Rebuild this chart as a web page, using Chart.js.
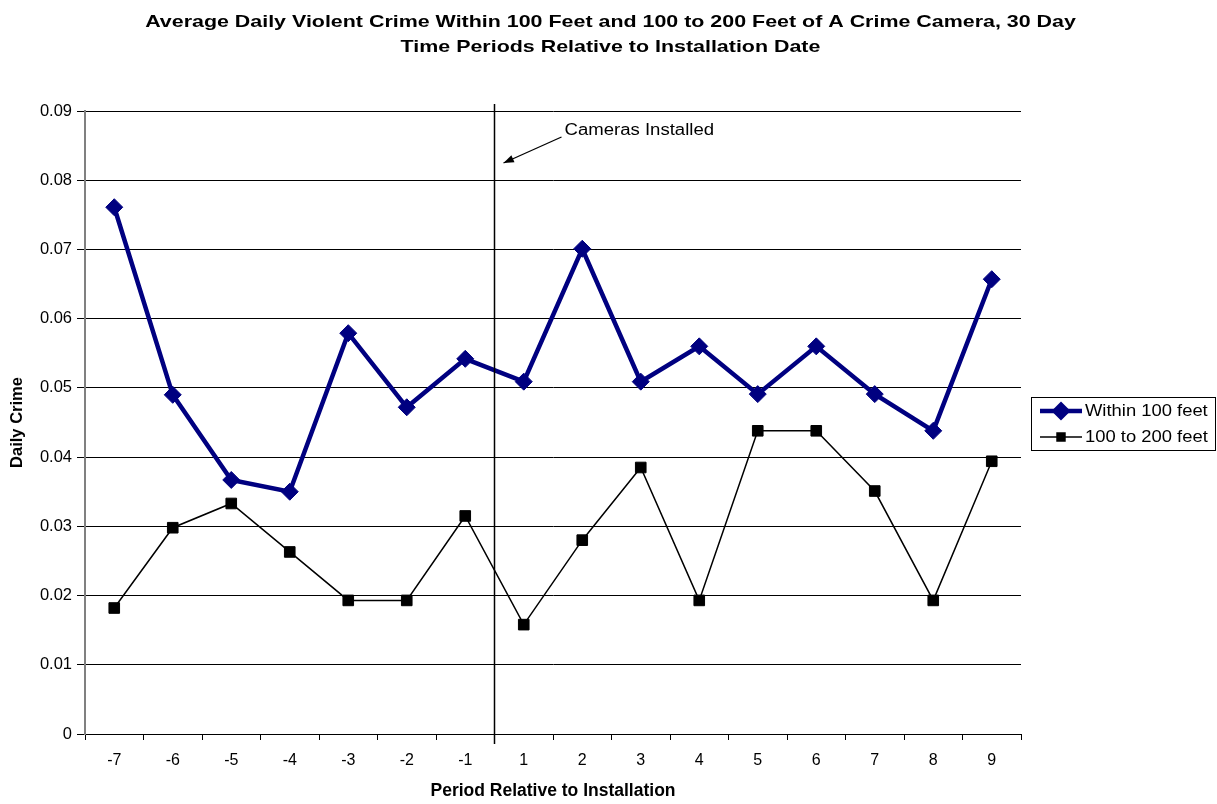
<!DOCTYPE html>
<html>
<head>
<meta charset="utf-8">
<script src="https://cdn.jsdelivr.net/npm/chart.js@4/dist/chart.umd.min.js"></script>
<style>
    html, body { margin: 0; padding: 0; background: #fff; }
    #holder { width: 1217px; height: 804px; }
</style>
</head>
<body>
<div id="holder"><canvas id="c1"></canvas></div>
<script>
// periods around the install date (there is no period 0)
var periods = ["-7", "-6", "-5", "-4", "-3", "-2", "-1", "1", "2", "3", "4", "5", "6", "7", "8", "9"];
var within100 = [0.0761, 0.0490, 0.0367, 0.0350, 0.0579, 0.0472, 0.0542, 0.0509, 0.0701, 0.0509, 0.0560, 0.0491, 0.0560, 0.0491, 0.0438, 0.0657];
var from100to200 = [0.0182, 0.0298, 0.0333, 0.0263, 0.0193, 0.0193, 0.0315, 0.0158, 0.0280, 0.0385, 0.0193, 0.0438, 0.0438, 0.0351, 0.0193, 0.0394];
var yTicks = [0, 0.01, 0.02, 0.03, 0.04, 0.05, 0.06, 0.07, 0.08, 0.09];

var titleLines = [
    "Average Daily Violent Crime Within 100 Feet and 100 to 200 Feet of A Crime Camera, 30 Day",
    "Time Periods Relative to Installation Date"
];
var markerText = "Cameras Installed";
var installAfter = "-1";   // line goes between this period and the next

var FONT = "'Liberation Sans', Arial, sans-serif";
var WIDE = 1.2;   // horizontal stretch used for the hand drawn texts

// fillText with a horizontal stretch
function wideText(ctx, text, x, y, sx, align) {
    ctx.save();
    ctx.translate(x, y);
    ctx.scale(sx, 1);
    ctx.textAlign = align;
    ctx.textBaseline = "middle";
    ctx.fillText(text, 0, 0);
    ctx.restore();
}

// two line title centred on the whole canvas
var wideTitle = {
    id: "wideTitle",
    afterDraw(chart) {
        let ctx = chart.ctx;
        ctx.save();
        ctx.fillStyle = "#000";
        ctx.font = "bold 17px " + FONT;
        titleLines.forEach((t, k) => {
            wideText(ctx, t, chart.width / 2 + 2, 22 + k * 25, 1.26, "center");
        });
        ctx.restore();
    }
};

// vertical line + arrow note for the install date
var installLine = {
    id: "installLine",
    afterDatasetsDraw(chart) {
        let ctx = chart.ctx;
        let xs = chart.scales.x;
        let area = chart.chartArea;
        let i = periods.indexOf(installAfter);
        let x = (xs.getPixelForValue(i) + xs.getPixelForValue(i + 1)) / 2;

        ctx.save();
        ctx.strokeStyle = "#000";
        ctx.lineWidth = 1.5;
        ctx.beginPath();
        ctx.moveTo(x, area.top - 7);
        ctx.lineTo(x, area.bottom + 10);
        ctx.stroke();

        // arrow
        let x1 = x + 67, y1 = area.top + 26;
        let x2 = x + 9, y2 = area.top + 52;
        ctx.lineWidth = 1.3;
        ctx.beginPath();
        ctx.moveTo(x1, y1);
        ctx.lineTo(x2, y2);
        ctx.stroke();
        let a = Math.atan2(y2 - y1, x2 - x1);
        ctx.fillStyle = "#000";
        ctx.beginPath();
        ctx.moveTo(x2, y2);
        ctx.lineTo(x2 - 11 * Math.cos(a - 0.35), y2 - 11 * Math.sin(a - 0.35));
        ctx.lineTo(x2 - 11 * Math.cos(a + 0.35), y2 - 11 * Math.sin(a + 0.35));
        ctx.closePath();
        ctx.fill();

        ctx.font = "16px " + FONT;
        wideText(ctx, markerText, x + 70, area.top + 20, 1.16, "left");
        ctx.restore();
    }
};

// boxed legend on the right side
var boxLegend = {
    id: "boxLegend",
    afterDraw(chart) {
        let ctx = chart.ctx;
        let left = chart.chartArea.right + 10, top = 397, w = 184, h = 53;
        ctx.save();
        ctx.strokeStyle = "#000";
        ctx.lineWidth = 1;
        ctx.strokeRect(left + 0.5, top + 0.5, w, h);

        chart.data.datasets.forEach((ds, k) => {
            let y = top + 14 + k * 26;
            ctx.strokeStyle = ds.borderColor;
            ctx.lineWidth = ds.borderWidth;
            ctx.beginPath();
            ctx.moveTo(left + 9, y);
            ctx.lineTo(left + 51, y);
            ctx.stroke();
            Chart.helpers.drawPoint(ctx, {
                pointStyle: ds.pointStyle,
                radius: ds.pointRadius * 0.75,
                borderWidth: 1
            }, left + 30, y);
            ctx.fillStyle = ds.pointBackgroundColor;
            ctx.fill();
            ctx.fillStyle = "#000";
            ctx.font = "16px " + FONT;
            wideText(ctx, ds.label, left + 54, y + 1, 1.15, "left");
        });
        ctx.restore();
    }
};

function start() {
    let canvas = document.getElementById("c1");
    new Chart(canvas, {
        type: "line",
        data: {
            labels: periods,
            datasets: [{
                label: "Within 100 feet",
                data: within100,
                borderColor: "#000080",
                backgroundColor: "#000080",
                pointBackgroundColor: "#000080",
                pointBorderColor: "#000080",
                borderWidth: 4.5,
                pointStyle: "rectRot",
                pointRadius: 8.5,
                pointBorderWidth: 1,
                tension: 0
            }, {
                label: "100 to 200 feet",
                data: from100to200,
                borderColor: "#000",
                backgroundColor: "#000",
                pointBackgroundColor: "#000",
                pointBorderColor: "#000",
                borderWidth: 1.5,
                pointStyle: "rect",
                pointRadius: 7.5,
                pointBorderWidth: 1,
                tension: 0
            }]
        },
        options: {
            responsive: true,
            maintainAspectRatio: false,
            animation: false,
            layout: { padding: { left: 0, right: 196, top: 111, bottom: 0 } },
            plugins: {
                legend: { display: false },
                tooltip: { enabled: false },
                title: { display: false }
            },
            scales: {
                x: {
                    type: "category",
                    offset: true,
                    grid: { offset: true, drawOnChartArea: false, drawTicks: true, tickLength: 6, color: "#000" },
                    border: { color: "#000", width: 1 },
                    ticks: { color: "#000", font: { family: FONT, size: 16 }, padding: 11, maxRotation: 0, autoSkip: false },
                    title: { display: true, text: "Period Relative to Installation", color: "#000",
                             font: { family: FONT, size: 17.5, weight: "bold" }, padding: { top: 0, bottom: 2 } },
                    afterFit(scale) { scale.height = 70; }
                },
                y: {
                    min: 0,
                    max: 0.09,
                    afterBuildTicks(scale) { scale.ticks = yTicks.map(v => ({ value: v })); },
                    grid: { color: "#000", lineWidth: 1, tickLength: 8, drawTicks: true },
                    border: { color: "#808080", width: 2 },
                    ticks: {
                        color: "#000",
                        font: { family: FONT, size: 16.5 },
                        padding: 5,
                        callback: (v) => String(Math.round(v * 100) / 100)
                    },
                    title: { display: true, text: "Daily Crime", color: "#000",
                             font: { family: FONT, size: 16.5, weight: "bold" }, padding: { top: 8, bottom: 0 } },
                    afterFit(scale) { scale.width = 85; }
                }
            }
        },
        plugins: [wideTitle, installLine, boxLegend]
    });
}

start();
</script>
</body>
</html>
